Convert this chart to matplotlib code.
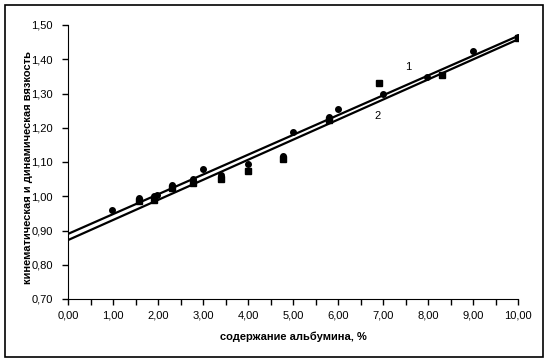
import matplotlib.pyplot as plt
import numpy as np
from matplotlib.patches import Rectangle

plt.rcParams['font.family'] = ['Liberation Sans', 'DejaVu Sans']

# серия 1 (кружки) и серия 2 (квадраты)
x1 = [0.98, 1.58, 1.92, 1.97, 2.30, 2.78, 2.99, 3.40, 3.99, 4.78, 5.01, 5.81, 6.01, 6.99, 7.97, 8.99, 10.0]
y1 = [0.960, 0.996, 1.000, 1.004, 1.033, 1.050, 1.080, 1.062, 1.094, 1.118, 1.188, 1.232, 1.254, 1.300, 1.349, 1.425, 1.465]
x2 = [1.58, 1.92, 2.30, 2.78, 3.40, 3.99, 4.78, 5.81, 6.91, 8.30, 10.0]
y2 = [0.987, 0.989, 1.023, 1.038, 1.050, 1.074, 1.108, 1.223, 1.332, 1.355, 1.461]

# линии тренда
trend_x = [0.0, 10.0]
trend1 = [0.890, 1.468]
trend2 = [0.872, 1.458]

xticks = [0, 1, 2, 3, 4, 5, 6, 7, 8, 9, 10]
yticks = [0.7, 0.8, 0.9, 1.0, 1.1, 1.2, 1.3, 1.4, 1.5]

fig = plt.figure(figsize=(5.49, 3.64), dpi=100)
fig.patches.append(Rectangle((5/549, 7/364), 538/549, 352/364, transform=fig.transFigure,
                             fill=False, edgecolor='black', linewidth=1.2))
ax = fig.add_axes([68/549, 65/364, 450/549, 274/364])

ax.plot(trend_x, trend1, color='black', lw=1.6)
ax.plot(trend_x, trend2, color='black', lw=1.6)
ax.plot(x1, y1, 'o', color='black', ms=4)
ax.plot(x2, y2, 's', color='black', ms=4.5)

ax.text(7.56, 1.378, '1', fontsize=8, ha='center', va='center')
ax.text(6.88, 1.235, '2', fontsize=8, ha='center', va='center')

ax.set_xlim(0, 10)
ax.set_ylim(0.7, 1.5)
ax.set_xticks(xticks)
ax.set_xticklabels(['{:.2f}'.format(v).replace('.', ',') for v in xticks])
ax.set_xticks(np.arange(0.5, 10, 1.0), minor=True)
ax.set_yticks(yticks)
ax.set_yticklabels(['{:.2f}'.format(v).replace('.', ',') for v in yticks])
ax.tick_params(which='both', direction='out', length=4, width=1, labelsize=8, pad=4)
ax.tick_params(axis='y', pad=7)
ax.spines['top'].set_visible(False)
ax.spines['right'].set_visible(False)

ax.set_xlabel('содержание альбумина, %', fontsize=8, fontweight='bold', labelpad=8)
ax.set_ylabel('кинематическая и динамическая вязкость', fontsize=8, fontweight='bold')
ax.yaxis.set_label_coords(-0.078, 0.48)

plt.savefig('out.png', dpi=100)
